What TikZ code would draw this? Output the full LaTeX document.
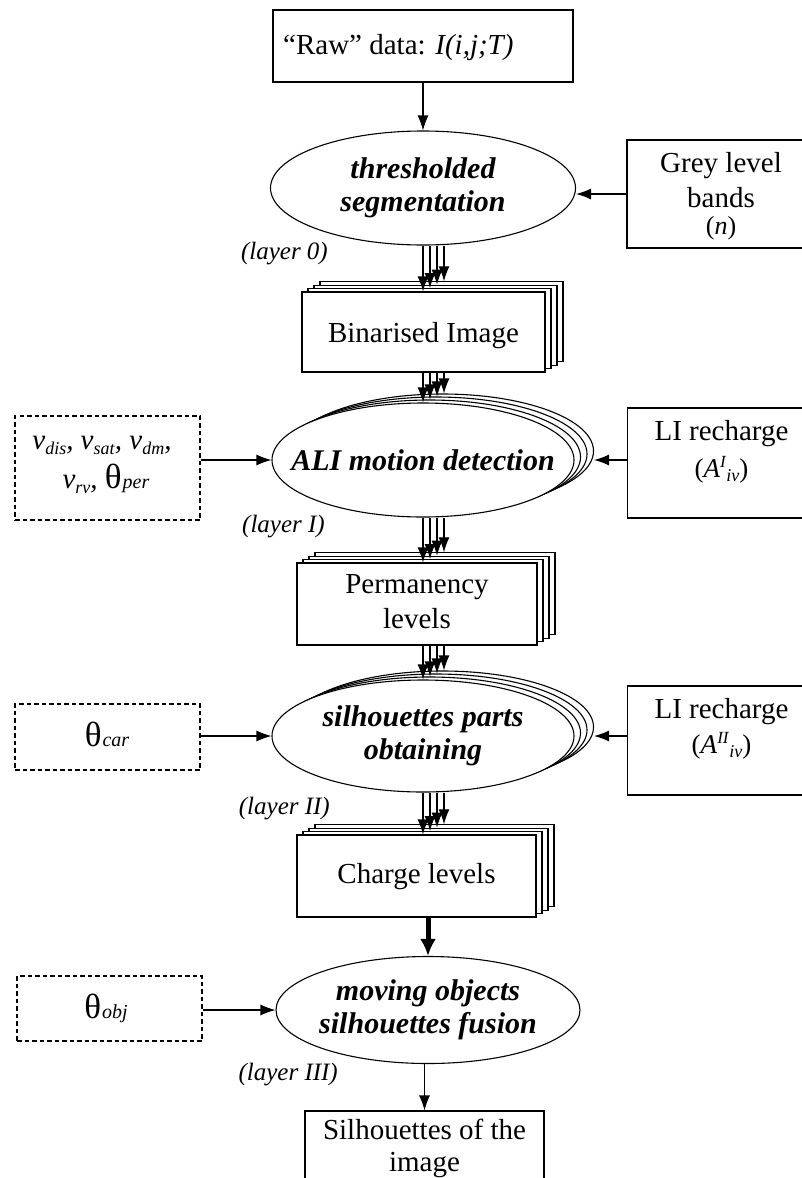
\documentclass[tikz,border=0pt]{standalone}
\usepackage{fontspec}
\setmainfont{Liberation Serif}
\usetikzlibrary{shapes.geometric,arrows.meta,calc}
\newcommand{\mainsize}{\fontsize{29}{33}\selectfont}
\newcommand{\vsb}[1]{\textit{v}{\fontsize{18}{18}\selectfont\raisebox{-5pt}{\textit{#1}}}}
\newcommand{\thsb}[1]{{\fontsize{35}{35}\selectfont θ}\kern1pt{\fontsize{20}{20}\selectfont\textit{#1}}}
\newcommand{\Aiv}[1]{{\fontsize{27}{27}\selectfont(\textit{A}\raisebox{10pt}{\fontsize{17}{17}\selectfont\textit{#1}}\raisebox{-4pt}{\fontsize{18}{18}\selectfont\textit{iv}})}}
\begin{document}
\begin{tikzpicture}[x=1pt,y=-1pt,
  every node/.style={font=\mainsize},
  box/.style={draw, fill=white, line width=1.1pt, inner sep=0pt},
  dbox/.style={draw, line width=1.1pt, dash pattern=on 4.5pt off 3pt, inner sep=0pt},
  ell/.style={ellipse, draw, fill=white, line width=1.1pt, inner sep=0pt},
  txt/.style={inner sep=0pt, anchor=base},
  lbl/.style={font={\fontsize{25}{28}\selectfont\itshape}, inner sep=0pt, anchor=base east},
  et/.style={font={\fontsize{30}{33}\selectfont\bfseries\itshape}, align=center, inner sep=0pt},
  arr/.style={line width=1.1pt, -{Latex[length=15pt,width=11pt]}},
  thk/.style={line width=5pt, -{Latex[length=17pt,width=16pt]}},
]
\useasboundingbox (0,0) rectangle (802,1178);

% Raw data
\node[box, minimum width=300pt, minimum height=72pt] (raw) at (423,46) {};
\node[inner sep=0pt, anchor=base west] (rawt) at (283,54) {“Raw” data: \textit{I(i,j;T)}};

% layer 0
\node[ell, minimum width=305pt, minimum height=114pt] (e1) at (423,188) {};
\node[et] (e1t) at (e1.center) {thresholded\\segmentation};
\draw[arr] (raw.south -| e1.north) -- (e1.north);

\node[box, minimum width=188pt, minimum height=108pt] (grey) at (721,194) {};
\node[txt] (g1) at (721,172) {Grey level};
\node[txt] (g2) at (721,207) {bands};
\node[txt] (g3) at (721,234) {{\fontsize{26}{26}\selectfont(\textit{n})}};
\draw[arr] (grey.west) -- (grey.west -| e1.east);
\node[lbl] (l0) at (328,259) {(layer 0)};

% Binarised image
\foreach \k in {3,2,1}
  \node[box, minimum width=243pt, minimum height=80pt] (bin\k) at ({423.5+6*\k},{332-3.4*\k}) {};
\node[box, minimum width=243pt, minimum height=80pt] (bin0) at (423.5,332) {};
\node[txt] (bint) at (423.5,342) {Binarised Image};
\foreach \k in {0,...,3}
  \draw[arr] ([xshift={7pt*\k}]e1.south) -- ([xshift={7pt*\k}]e1.south |- bin\k.north);

% layer I
\foreach \k in {3,2,1}
  \node[ell, minimum width=302pt, minimum height=114pt] (e2l\k) at ({423+6.5*\k},{460-3*\k}) {};
\node[ell, minimum width=302pt, minimum height=114pt] (e2l0) at (423,460) {};
\node[et] (e2t) at (e2l0.center) {ALI motion detection};
\foreach \k in {0,...,3}
  \draw[arr] ([xshift={7pt*\k}]e2l0.north |- bin0.south) -- ([xshift={7pt*\k}]e2l0.north |- e2l\k.north);

\node[dbox, minimum width=185pt, minimum height=104pt] (d1) at (107.5,468) {};
\node[txt] (d1a) at (102,449) {\vsb{dis}\textit{,} \vsb{sat}\textit{,} \vsb{dm}\textit{,}};
\node[txt] (d1b) at (106,488) {\vsb{rv}\textit{,} \thsb{per}};
\draw[arr] (d1.east |- e2l0.west) -- (e2l0.west);

\node[box, minimum width=188pt, minimum height=110pt] (li1) at (721.5,463) {};
\node[txt] (li1a) at (721.5,440) {LI recharge};
\node[txt] (li1b) at (721.5,477) {\Aiv{I}};
\draw[arr] (li1.west |- e2l0.center) -- (e2l0.center -| e2l3.east);
\node[lbl] (l1) at (325,532) {(layer I)};

% Permanency levels
\foreach \k in {3,2,1}
  \node[box, minimum width=240pt, minimum height=82pt] (perm\k) at ({417+6*\k},{604-3.4*\k}) {};
\node[box, minimum width=240pt, minimum height=82pt] (perm0) at (417,604) {};
\node[txt] (perma) at (417,593) {Permanency};
\node[txt] (permb) at (417,628) {levels};
\foreach \k in {0,...,3}
  \draw[arr] ([xshift={7pt*\k}]e2l0.south) -- ([xshift={7pt*\k}]e2l0.south |- perm\k.north);

% layer II
\foreach \k in {3,2,1}
  \node[ell, minimum width=302pt, minimum height=112pt] (e3l\k) at ({423+6.5*\k},{736-3*\k}) {};
\node[ell, minimum width=302pt, minimum height=112pt] (e3l0) at (423,736) {};
\node[et] (e3t) at (e3l0.center) {silhouettes parts\\obtaining};
\foreach \k in {0,...,3}
  \draw[arr] ([xshift={7pt*\k}]e3l0.north |- perm0.south) -- ([xshift={7pt*\k}]e3l0.north |- e3l\k.north);

\node[dbox, minimum width=185pt, minimum height=66pt] (d2) at (107.5,737) {};
\node[txt] (d2t) at (107,746) {\thsb{car}};
\draw[arr] (d2.east |- e3l0.west) -- (e3l0.west);

\node[box, minimum width=188pt, minimum height=109pt] (li2) at (721.5,740.5) {};
\node[txt] (li2a) at (721.5,718) {LI recharge};
\node[txt] (li2b) at (721.5,753) {\Aiv{II}};
\draw[arr] (li2.west |- e3l0.center) -- (e3l0.center -| e3l3.east);
\node[lbl] (l2) at (330,814) {(layer II)};

% Charge levels
\foreach \k in {3,2,1}
  \node[box, minimum width=239pt, minimum height=82pt] (chg\k) at ({416.5+6*\k},{876-3.4*\k}) {};
\node[box, minimum width=239pt, minimum height=82pt] (chg0) at (416.5,876) {};
\node[txt] (chgt) at (416.5,883) {Charge levels};
\foreach \k in {0,...,3}
  \draw[arr] ([xshift={7pt*\k}]e3l0.south) -- ([xshift={7pt*\k}]e3l0.south |- chg\k.north);

% layer III
\node[ell, minimum width=304pt, minimum height=107pt] (e4) at (428,1010) {};
\node[et] (e4t) at (e4.center) {moving objects\\silhouettes fusion};
\draw[thk] (chg0.south -| e4.north) -- (e4.north);

\node[dbox, minimum width=185pt, minimum height=65pt] (d3) at (109.5,1008.5) {};
\node[txt] (d3t) at (106,1018) {\thsb{obj}};
\draw[arr] (d3.east |- e4.west) -- (e4.west);
\node[lbl] (l3) at (338,1080) {(layer III)};

% Silhouettes of the image
\node[box, minimum width=239pt, minimum height=100pt] (sil) at (424.5,1161) {};
\node[txt] (sila) at (424.5,1139) {Silhouettes of the};
\node[txt] (silb) at (424.5,1171) {image};
\draw[arr] (sil.north |- e4.south) -- (sil.north);
\end{tikzpicture}
\end{document}
